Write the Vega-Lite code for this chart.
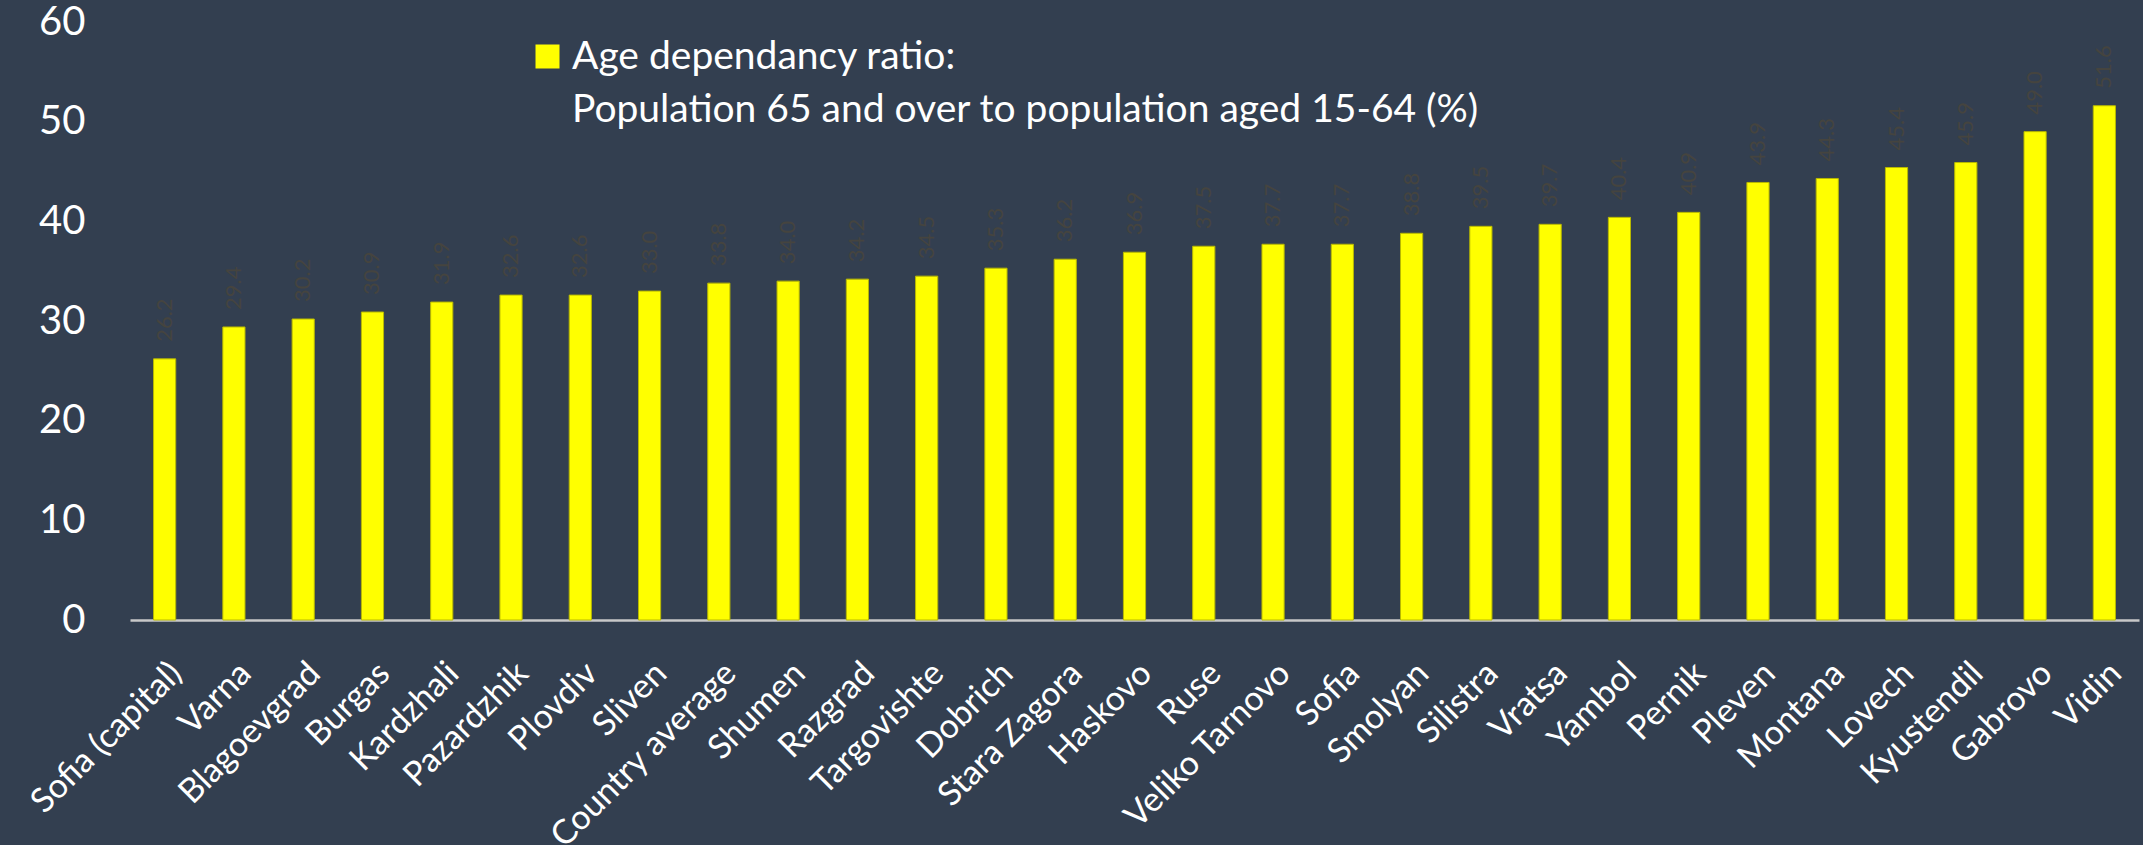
{
  "$schema": "https://vega.github.io/schema/vega-lite/v6.json",
  "autosize": {"type": "none"},
  "width": 2009,
  "height": 598,
  "padding": {"left": 130, "top": 22, "right": 4, "bottom": 225},
  "background": "#333F50",
  "config": {
    "view": {"stroke": null},
    "font": "Lato",
    "style": {"guide-label": {"lineHeight": 53}}
  },
  "data": {
    "values": [
      {"region": "Sofia (capital)", "value": 26.2, "series": "Age dependancy ratio"},
      {"region": "Varna", "value": 29.4, "series": "Age dependancy ratio"},
      {"region": "Blagoevgrad", "value": 30.2, "series": "Age dependancy ratio"},
      {"region": "Burgas", "value": 30.9, "series": "Age dependancy ratio"},
      {"region": "Kardzhali", "value": 31.9, "series": "Age dependancy ratio"},
      {"region": "Pazardzhik", "value": 32.6, "series": "Age dependancy ratio"},
      {"region": "Plovdiv", "value": 32.6, "series": "Age dependancy ratio"},
      {"region": "Sliven", "value": 33.0, "series": "Age dependancy ratio"},
      {"region": "Country average", "value": 33.8, "series": "Age dependancy ratio"},
      {"region": "Shumen", "value": 34.0, "series": "Age dependancy ratio"},
      {"region": "Razgrad", "value": 34.2, "series": "Age dependancy ratio"},
      {"region": "Targovishte", "value": 34.5, "series": "Age dependancy ratio"},
      {"region": "Dobrich", "value": 35.3, "series": "Age dependancy ratio"},
      {"region": "Stara Zagora", "value": 36.2, "series": "Age dependancy ratio"},
      {"region": "Haskovo", "value": 36.9, "series": "Age dependancy ratio"},
      {"region": "Ruse", "value": 37.5, "series": "Age dependancy ratio"},
      {"region": "Veliko Tarnovo", "value": 37.7, "series": "Age dependancy ratio"},
      {"region": "Sofia", "value": 37.7, "series": "Age dependancy ratio"},
      {"region": "Smolyan", "value": 38.8, "series": "Age dependancy ratio"},
      {"region": "Silistra", "value": 39.5, "series": "Age dependancy ratio"},
      {"region": "Vratsa", "value": 39.7, "series": "Age dependancy ratio"},
      {"region": "Yambol", "value": 40.4, "series": "Age dependancy ratio"},
      {"region": "Pernik", "value": 40.9, "series": "Age dependancy ratio"},
      {"region": "Pleven", "value": 43.9, "series": "Age dependancy ratio"},
      {"region": "Montana", "value": 44.3, "series": "Age dependancy ratio"},
      {"region": "Lovech", "value": 45.4, "series": "Age dependancy ratio"},
      {"region": "Kyustendil", "value": 45.9, "series": "Age dependancy ratio"},
      {"region": "Gabrovo", "value": 49.0, "series": "Age dependancy ratio"},
      {"region": "Vidin", "value": 51.6, "series": "Age dependancy ratio"}
    ]
  },
  "encoding": {
    "x": {
      "field": "region",
      "type": "nominal",
      "sort": null,
      "scale": {"paddingInner": 0.68, "paddingOuter": 0.34},
      "axis": {
        "title": null,
        "labelAngle": -45,
        "labelColor": "#FFFFFF",
        "labelFontSize": 34,
        "labelPadding": 36,
        "labelLimit": 400,
        "ticks": false,
        "domainColor": "#C8C8C8",
        "domainWidth": 2.5
      }
    },
    "y": {
      "field": "value",
      "type": "quantitative",
      "scale": {"domain": [0, 60]},
      "axis": {
        "title": null,
        "values": [0, 10, 20, 30, 40, 50, 60],
        "grid": false,
        "domain": false,
        "ticks": false,
        "labelColor": "#FFFFFF",
        "labelFontSize": 40,
        "labelPadding": 45
      }
    }
  },
  "layer": [
    {
      "mark": {"type": "bar", "color": "#FFFF00", "stroke": "#B8B800", "strokeWidth": 1},
      "encoding": {
        "color": {
          "field": "series",
          "type": "nominal",
          "scale": {"range": ["#FFFF00"]},
          "legend": {
            "title": null,
            "orient": "none",
            "legendX": 398,
            "legendY": 15,
            "symbolType": "square",
            "symbolSize": 576,
            "symbolStrokeWidth": 0,
            "symbolFillColor": "#FFFF00",
            "labelColor": "#FFFFFF",
            "labelFontSize": 39,
            "labelOffset": 5,
            "labelLimit": 1200,
            "labelBaseline": "middle",
            "labelExpr": "['Age dependancy ratio:', 'Population 65 and over to population aged 15-64 (%)']"
          }
        }
      }
    },
    {
      "mark": {
        "type": "text",
        "angle": 270,
        "align": "left",
        "baseline": "middle",
        "dx": 17,
        "fontSize": 22,
        "color": "#45443F"
      },
      "encoding": {
        "text": {"field": "value", "type": "quantitative", "format": ".1f"}
      }
    }
  ]
}
